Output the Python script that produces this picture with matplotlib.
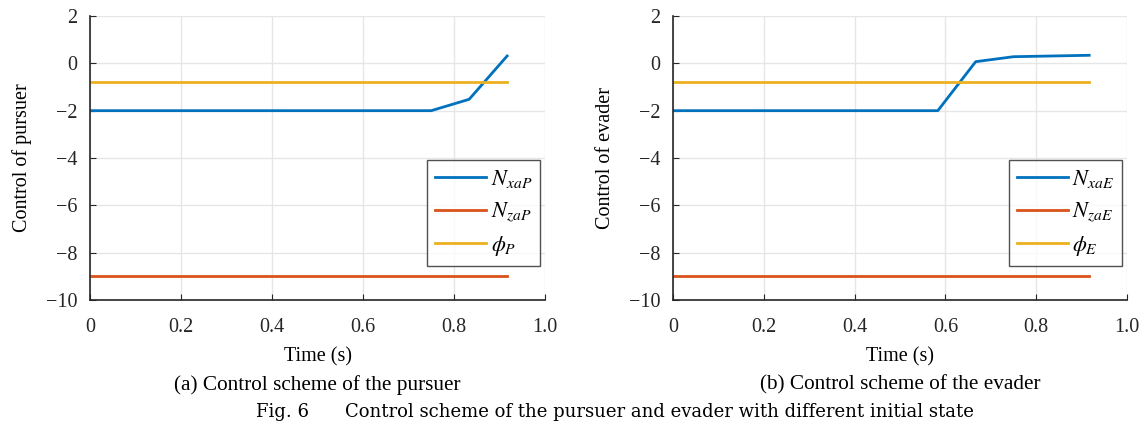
import matplotlib
matplotlib.use("Agg")
import matplotlib.pyplot as plt

plt.rcParams['font.family'] = ['Liberation Serif', 'DejaVu Serif']
plt.rcParams['mathtext.fontset'] = 'stix'

# Data
t_p = [0.0, 0.75, 0.8333, 0.9167]
nx_p = [-2.0, -2.0, -1.52, 0.31]
t_line = [0.0, 0.9167]
nz_p = [-9.0, -9.0]
phi_p = [-0.8, -0.8]

t_e = [0.0, 0.5833, 0.6667, 0.75, 0.9167]
nx_e = [-2.0, -2.0, 0.07, 0.28, 0.34]
nz_e = [-9.0, -9.0]
phi_e = [-0.8, -0.8]

xticks = [0, 0.2, 0.4, 0.6, 0.8, 1.0]
xticklabels = ['0', '0.2', '0.4', '0.6', '0.8', '1.0']
yticks = [2, 0, -2, -4, -6, -8, -10]

c1, c2, c3 = '#0072BD', '#D95319', '#EDB120'

W, H = 1147, 436
fig = plt.figure(figsize=(W / 100, H / 100), dpi=100)

def make_ax(x0, x1):
    return fig.add_axes([x0 / W, 1 - 300 / H, (x1 - x0) / W, (300 - 16) / H])

axes = [make_ax(90, 545), make_ax(673, 1127)]
series = [
    (t_p, nx_p, nz_p, phi_p, 'P', 'Control of pursuer', '(a) Control scheme of the pursuer'),
    (t_e, nx_e, nz_e, phi_e, 'E', 'Control of evader', '(b) Control scheme of the evader'),
]

for ax, (t, nx, nz, phi, s, ylab, cap) in zip(axes, series):
    ax.plot(t, nx, color=c1, lw=2, label=r'$N_{xa%s}$' % s)
    ax.plot(t_line, nz, color=c2, lw=2, label=r'$N_{za%s}$' % s)
    ax.plot(t_line, phi, color=c3, lw=2, label=r'$\phi_{%s}$' % s)
    ax.set_xlim(0, 1.0)
    ax.set_ylim(-10, 2)
    ax.set_xticks(xticks)
    ax.set_xticklabels(xticklabels)
    ax.set_yticks(yticks)
    ax.set_yticklabels([('\u2212%d' % -v) if v < 0 else str(v) for v in yticks])
    ax.grid(True, color='#e6e6e6', lw=1)
    ax.set_axisbelow(True)
    for sp in ['top', 'right']:
        ax.spines[sp].set_visible(False)
    for sp in ['left', 'bottom']:
        ax.spines[sp].set_color('#262626')
        ax.spines[sp].set_linewidth(1.2)
    ax.tick_params(direction='in', length=4, labelsize=14.5, colors='#262626')
    ax.tick_params(axis='x', pad=13)
    ax.tick_params(axis='y', pad=9)
    ax.set_xlabel('Time (s)', fontsize=14.5, labelpad=7)
    ax.set_ylabel(ylab, fontsize=14.5, labelpad=10)
    leg = ax.legend(loc='lower right', bbox_to_anchor=(0.989, 0.12), fontsize=16,
                    frameon=True, fancybox=False, edgecolor='#262626',
                    handlelength=2.3, labelspacing=0.45, borderpad=0.35,
                    handletextpad=0.2, borderaxespad=0.0)
    leg.get_frame().set_linewidth(1.0)
    bb = ax.get_position()
    fig.text((bb.x0 + bb.x1) / 2, 1 - 385 / H, cap, ha='center', va='center', fontsize=15.3)

fig.text(615 / W, 1 - 412 / H, 'Fig. 6\u2003\u2003Control scheme of the pursuer and evader with different initial state',
         ha='center', va='center', fontsize=13, family=['DejaVu Serif'])

fig.savefig('out.png', dpi=100)
